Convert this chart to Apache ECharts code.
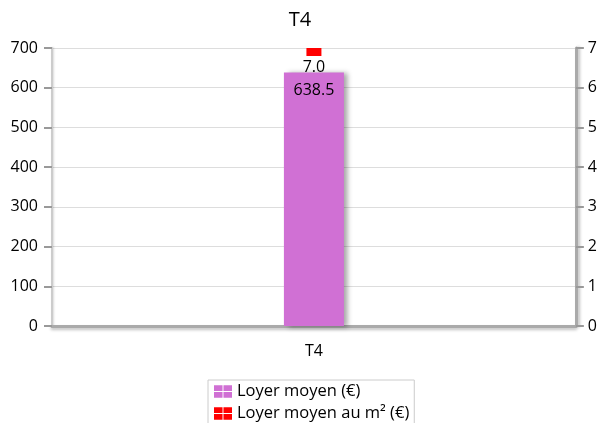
<!DOCTYPE html>
<html><head><meta charset="utf-8">
<script src="https://cdn.jsdelivr.net/npm/echarts@6/dist/echarts.min.js"></script>
<style>html,body{margin:0;padding:0;background:#fff}#c{width:600px;height:423px}</style>
</head><body><div id="c"></div>
<script>
const categories = ['T4'];
const loyerMoyen = [638.5];
const loyerM2 = [7.0];
const seriesNames = ['Loyer moyen (€)', 'Loyer moyen au m² (€)'];
const titleText = 'T4';

const FONT = 'Open Sans';
const icon = 'path://M0,0h9v6h-9z M10,0h9v6h-9z M0,7h9v6h-9z M10,7h9v6h-9z';
const chart = echarts.init(document.getElementById('c'));
chart.setOption({
  backgroundColor: '#fff',
  animation: false,
  title: { text: titleText, left: 'center', top: 5, textStyle: { fontFamily: FONT, fontSize: 20, fontWeight: 'normal', color: '#000' } },
  legend: {
    type: 'plain', orient: 'vertical', left: 208, top: 380, height: 60,
    borderColor: '#ccc', borderWidth: 1, padding: [3, 5, 4, 6],
    itemWidth: 18, itemHeight: 14, itemGap: 5,
    textStyle: { fontFamily: FONT, fontSize: 16.5, color: '#000' },
    data: [{ name: seriesNames[0], icon: icon }, { name: seriesNames[1], icon: icon }]
  },
  grid: { left: 52, right: 23, top: 48, bottom: 97 },
  xAxis: {
    type: 'category', data: categories,
    axisLine: { lineStyle: { color: '#aaa', width: 3, shadowColor: 'rgba(0,0,0,0.25)', shadowBlur: 3, shadowOffsetY: 2 } },
    axisTick: { show: false },
    axisLabel: { margin: 17, fontFamily: FONT, fontSize: 16, color: '#000' }
  },
  yAxis: [
    { type: 'value', min: 0, max: 700, interval: 100, position: 'left',
      axisLine: { show: true, lineStyle: { color: '#ccc', width: 2, shadowColor: 'rgba(0,0,0,0.15)', shadowBlur: 2, shadowOffsetX: 1 } },
      axisTick: { show: true, length: 8, lineStyle: { color: '#999', width: 2 } },
      axisLabel: { margin: 14, fontFamily: FONT, fontSize: 16, color: '#000' },
      splitLine: { lineStyle: { color: '#ddd' } } },
    { type: 'value', min: 0, max: 7, interval: 1, position: 'right',
      axisLine: { show: true, lineStyle: { color: '#aaa', width: 3, shadowColor: 'rgba(0,0,0,0.25)', shadowBlur: 3, shadowOffsetX: 2 } },
      axisTick: { show: true, length: 8, lineStyle: { color: '#999', width: 2 } },
      axisLabel: { margin: 12, fontFamily: FONT, fontSize: 16, color: '#000' },
      splitLine: { show: false } }
  ],
  series: [
    { name: seriesNames[0], type: 'bar', data: loyerMoyen, barWidth: 60, yAxisIndex: 0,
      itemStyle: { color: '#d070d4', shadowColor: 'rgba(0,0,0,0.35)', shadowBlur: 5, shadowOffsetX: 4, shadowOffsetY: 1 },
      label: { show: true, position: 'insideTop', distance: 10, fontFamily: FONT, fontSize: 16, color: '#000',
        formatter: p => p.value.toFixed(1) } },
    { name: seriesNames[1], type: 'line', data: loyerM2, yAxisIndex: 1, clip: false,
      symbol: 'rect', symbolSize: [15, 8], symbolOffset: [0, 4],
      itemStyle: { color: '#ff0000' }, lineStyle: { width: 0 },
      label: { show: true, position: 'bottom', distance: 3, fontFamily: FONT, fontSize: 16, color: '#000',
        formatter: p => p.value.toFixed(1) } }
  ]
});
</script></body></html>
